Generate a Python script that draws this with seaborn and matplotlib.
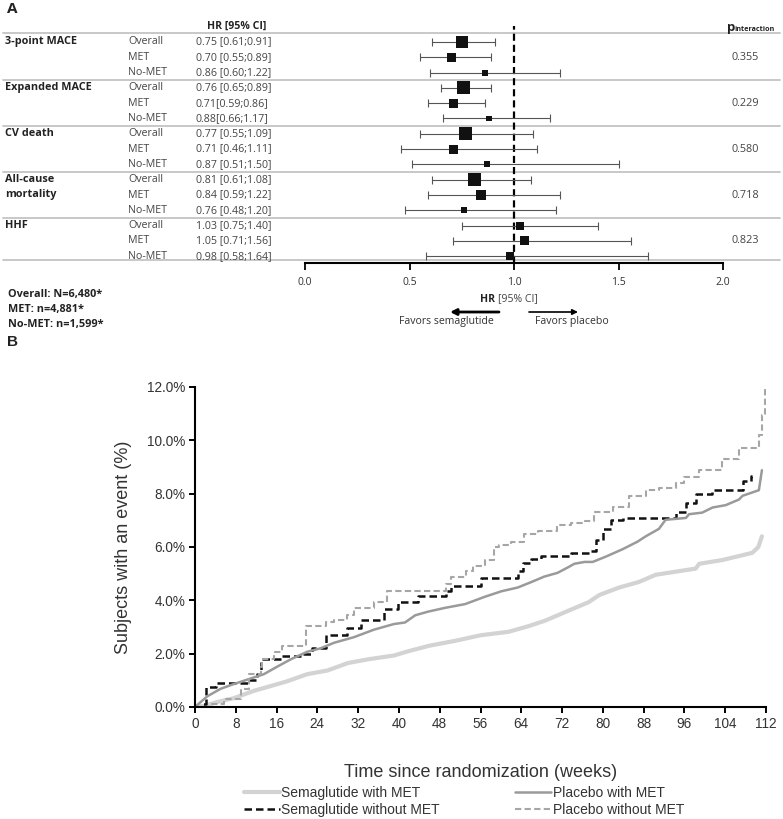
import numpy as np
import pandas as pd
import matplotlib
matplotlib.use("Agg")
import matplotlib.pyplot as plt
import matplotlib.transforms as mtransforms
from matplotlib.lines import Line2D
import seaborn as sns

# ---------------- Panel A data ----------------
outcomes = ["3-point MACE", "Expanded MACE", "CV death", "All-cause\nmortality", "HHF"]
subgroups = ["Overall", "MET", "No-MET"]
hr = [0.75, 0.70, 0.86, 0.76, 0.71, 0.88, 0.77, 0.71, 0.87, 0.81, 0.84, 0.76, 1.03, 1.05, 0.98]
ci_low = [0.61, 0.55, 0.60, 0.65, 0.59, 0.66, 0.55, 0.46, 0.51, 0.61, 0.59, 0.48, 0.75, 0.71, 0.58]
ci_high = [0.91, 0.89, 1.22, 0.89, 0.86, 1.17, 1.09, 1.11, 1.50, 1.08, 1.22, 1.20, 1.40, 1.56, 1.64]
hr_labels = ["0.75 [0.61;0.91]", "0.70 [0.55;0.89]", "0.86 [0.60;1.22]",
             "0.76 [0.65;0.89]", "0.71[0.59;0.86]", "0.88[0.66;1.17]",
             "0.77 [0.55;1.09]", "0.71 [0.46;1.11]", "0.87 [0.51;1.50]",
             "0.81 [0.61;1.08]", "0.84 [0.59;1.22]", "0.76 [0.48;1.20]",
             "1.03 [0.75;1.40]", "1.05 [0.71;1.56]", "0.98 [0.58;1.64]"]
p_interaction = ["0.355", "0.229", "0.580", "0.718", "0.823"]
hr_ticks = [0.0, 0.5, 1.0, 1.5, 2.0]
n_notes = ["Overall: N=6,480*", "MET: n=4,881*", "No-MET: n=1,599*"]

# marker side lengths (px), a style choice reflecting study weight
marker_px = [12, 9, 6, 13, 9, 5.5, 13, 9, 6, 13, 10, 6, 8, 9, 8]

# ---------------- Panel B data ----------------
sema_met_wk = [0, 2, 4.4, 7.6, 11.6, 14.2, 18, 22, 26, 30, 34, 39, 42, 46, 51, 56, 61.5, 65.4,
               68.7, 72, 74.6, 77.2, 79.3, 83.2, 87.1, 90.4, 98.2, 98.9, 103.4, 109.3, 110.5, 111.2]
sema_met_pct = [0, 0.05, 0.19, 0.33, 0.61, 0.75, 0.96, 1.23, 1.37, 1.65, 1.79, 1.93, 2.1, 2.3, 2.48,
                2.69, 2.82, 3.03, 3.24, 3.51, 3.72, 3.93, 4.2, 4.48, 4.69, 4.96, 5.19, 5.37, 5.51,
                5.78, 6.0, 6.4]

plac_met_wk = [0, 2.4, 5, 7, 10.3, 13.5, 16.1, 18.8, 22, 24.6, 27.3, 31.2, 35.1, 39, 41.2, 43.2,
               45.8, 49.1, 53, 56.8, 60.1, 63.3, 65.9, 68.5, 71.1, 73.1, 74.4, 76.4, 78, 80.6, 83.9,
               86.8, 88.4, 91, 92.3, 96.3, 96.9, 99.5, 101.5, 104.1, 106.7, 107.4, 110.6, 111.2]
plac_met_pct = [0, 0.4, 0.68, 0.82, 1.03, 1.23, 1.51, 1.79, 2.07, 2.2, 2.41, 2.62, 2.9, 3.11, 3.17,
                3.44, 3.58, 3.72, 3.86, 4.13, 4.34, 4.48, 4.68, 4.89, 5.03, 5.23, 5.37, 5.44, 5.44,
                5.64, 5.92, 6.2, 6.4, 6.68, 7.02, 7.09, 7.23, 7.29, 7.48, 7.57, 7.78, 7.92, 8.13, 8.88]

sema_nomet_wk = [0, 1.1, 2.1, 4.2, 10.3, 12.2, 12.9, 16.8, 20.7, 23, 25.6, 29.9, 32.5, 37.1, 39.8,
                 43.7, 49.3, 50.2, 56.1, 63.3, 64.3, 65.9, 67.9, 73.7, 77.7, 78.7, 80, 81.6, 83.9,
                 94.3, 96.3, 98.2, 101.5, 107.4, 109, 109.3]
sema_nomet_pct = [0, 0.1, 0.75, 0.89, 1.03, 1.23, 1.79, 1.93, 2.0, 2.2, 2.69, 2.97, 3.25, 3.66, 3.95,
                  4.15, 4.35, 4.55, 4.85, 5.1, 5.4, 5.54, 5.65, 5.79, 5.85, 6.27, 6.69, 7.02, 7.09,
                  7.3, 7.64, 7.98, 8.12, 8.47, 8.68, 8.68]

plac_nomet_wk = [0, 3, 5.6, 9, 10.6, 12.9, 13.2, 15.5, 17.1, 21.7, 25.6, 27.3, 29.9, 31.2, 35.1,
                 37.7, 49.3, 50.2, 53.2, 54.5, 56.8, 58.7, 59.7, 62, 64.6, 67.2, 71.1, 73.7, 76.4,
                 78.3, 81.9, 85.1, 88.4, 91, 94.3, 95.9, 98.8, 103.4, 106.7, 110.6, 111.2, 111.9]
plac_nomet_pct = [0, 0.1, 0.3, 0.68, 1.23, 1.5, 1.79, 2.07, 2.27, 3.04, 3.18, 3.25, 3.45, 3.73, 3.94,
                  4.36, 4.6, 4.89, 5.1, 5.3, 5.51, 5.99, 6.06, 6.2, 6.47, 6.61, 6.82, 6.91, 6.96,
                  7.3, 7.5, 7.92, 8.12, 8.22, 8.4, 8.64, 8.88, 9.3, 9.71, 10.2, 10.95, 11.98]

km_xticks = list(range(0, 113, 8))
km_yticks = [0, 2, 4, 6, 8, 10, 12]
legend_labels = ["Semaglutide with MET", "Semaglutide without MET",
                 "Placebo with MET", "Placebo without MET"]

# ---------------- Figure ----------------
sns.set_style("ticks")
FA = ["Open Sans", "DejaVu Sans"]
FB = ["Liberation Sans", "DejaVu Sans"]
plt.rcParams["font.family"] = FA

W, H = 783, 819
fig = plt.figure(figsize=(W / 100, H / 100), dpi=100)
fx = lambda px: px / W
fy = lambda py: 1 - py / H

# ---- Panel A layout (pixel anchors) ----
row0, drow = 42.0, 15.3
ax_top, ax_bot = 26.0, 263.0
ax_f = fig.add_axes([fx(305), fy(ax_bot), fx(723) - fx(305), (ax_bot - ax_top) / H])
rows = np.arange(len(hr))

hr_a = np.array(hr); lo_a = np.array(ci_low); hi_a = np.array(ci_high)
ax_f.errorbar(hr_a, rows, xerr=[hr_a - lo_a, hi_a - hr_a], fmt="none", ecolor="#555555",
              elinewidth=0.8, capsize=2.8, capthick=0.8, zorder=2)
df_f = pd.DataFrame({"hr": hr, "row": rows})
sns.scatterplot(data=df_f, x="hr", y="row", marker="s", color="#111111",
                s=(np.array(marker_px) * 0.72) ** 2, linewidth=0, ax=ax_f, zorder=3, legend=False)
ax_f.axvline(1.0, color="black", lw=1.6, dashes=(3.2, 1.8), zorder=1)

ax_f.set_xlim(0, 2)
ax_f.set_ylim((ax_bot - row0) / drow, (ax_top - row0) / drow)
ax_f.set_xlabel(""); ax_f.set_ylabel("")
ax_f.set_yticks([])
ax_f.set_xticks(hr_ticks)
ax_f.set_xticklabels([f"{t:.1f}" for t in hr_ticks], fontsize=7.5, color="#333333")
ax_f.tick_params(axis="x", length=5, width=1.3, color="black", pad=5)
for s in ["top", "right", "left"]:
    ax_f.spines[s].set_visible(False)
ax_f.spines["bottom"].set_linewidth(1.5)
ax_f.spines["bottom"].set_color("black")
ax_f.patch.set_alpha(0)

blend = mtransforms.blended_transform_factory(fig.transFigure, ax_f.transData)

# separators
sep_rows = [-0.6, 2.5, 5.5, 8.5, 11.5, 14.25]
for r in sep_rows:
    ax_f.add_line(Line2D([fx(3), fx(780)], [r, r], transform=blend, color="#c4c4c4",
                         lw=1.3, clip_on=False, zorder=0))

# group labels, subgroup labels, HR text
for g, name in enumerate(outcomes):
    for k, part in enumerate(name.split("\n")):
        ax_f.text(fx(5), g * 3 + k, part, transform=blend, ha="left", va="center",
                  fontsize=7.8, fontweight="bold", color="#222222", clip_on=False)
    ax_f.text(fx(745), g * 3 + 1, p_interaction[g], transform=blend, ha="center",
              va="center", fontsize=7.8, color="#444444", clip_on=False)
for i in rows:
    ax_f.text(fx(128), i, subgroups[i % 3], transform=blend, ha="left", va="center",
              fontsize=7.7, color="#444444", clip_on=False)
    ax_f.text(fx(196), i, hr_labels[i], transform=blend, ha="left", va="center",
              fontsize=7.7, color="#444444", clip_on=False)

hdr_r = (ax_top - row0) / drow
ax_f.text(fx(237), hdr_r, "HR [95% CI]", transform=blend, ha="center", va="center",
          fontsize=7.6, fontweight="bold", color="#222222", clip_on=False)
ax_f.text(fx(727), hdr_r + 0.3, "p", transform=blend, ha="left", va="baseline",
          fontsize=9.5, fontweight="bold", color="#222222", clip_on=False)
ax_f.text(fx(734.5), hdr_r + 0.3, "interaction", transform=blend, ha="left", va="baseline",
          fontsize=5.2, fontweight="bold", color="#222222", clip_on=False)

# notes and favors
for k, note in enumerate(n_notes):
    fig.text(fx(8), fy(294 + 15.5 * k), note, ha="left", va="center", fontsize=7.8,
             fontweight="bold", color="#222222")
fig.text(fx(495), fy(299), "HR", ha="right", va="center", fontsize=7.6, fontweight="bold",
         color="#222222")
fig.text(fx(498), fy(299), "[95% CI]", ha="left", va="center", fontsize=7.6, color="#444444")
fig.text(fx(446), fy(322), "Favors semaglutide", ha="center", va="center", fontsize=7.6,
         color="#333333")
fig.text(fx(572), fy(322), "Favors placebo", ha="center", va="center", fontsize=7.6,
         color="#333333")
ax_f.annotate("", xy=(fx(450), fy(312)), xytext=(fx(499), fy(312)), xycoords="figure fraction",
              textcoords="figure fraction", annotation_clip=False,
              arrowprops=dict(arrowstyle="-|>", lw=2.0, color="black", mutation_scale=9,
                              shrinkA=0, shrinkB=0))
ax_f.annotate("", xy=(fx(578), fy(312)), xytext=(fx(529), fy(312)), xycoords="figure fraction",
              textcoords="figure fraction", annotation_clip=False,
              arrowprops=dict(arrowstyle="-|>", lw=1.2, color="black", mutation_scale=8,
                              shrinkA=0, shrinkB=0))

fig.text(fx(7), fy(9), "A", ha="left", va="center", fontsize=11, fontweight="bold",
         color="#222222")
fig.text(fx(7), fy(342), "B", ha="left", va="center", fontsize=11, fontweight="bold",
         color="#222222", family=FB)

# ---- Panel B ----
km_left, km_right, km_top, km_bot = 195, 766, 387, 707
ax_k = fig.add_axes([fx(km_left), fy(km_bot), fx(km_right) - fx(km_left),
                     (km_bot - km_top) / H])
series = [
    (sema_met_wk, sema_met_pct, dict(color="#d3d3d3", lw=3.0), None, "default"),
    (sema_nomet_wk, sema_nomet_pct, dict(color="#111111", lw=1.8), (3.0, 1.6), "steps-post"),
    (plac_met_wk, plac_met_pct, dict(color="#9a9a9a", lw=1.8), None, "default"),
    (plac_nomet_wk, plac_nomet_pct, dict(color="#a6a6a6", lw=1.5), (3.0, 1.6), "steps-post"),
]
handles = []
for (wk, pc, sty, dash, ds), lab in zip(series, legend_labels):
    n_before = len(ax_k.lines)
    sns.lineplot(x=wk, y=pc, ax=ax_k, estimator=None, sort=False, drawstyle=ds,
                 color=sty["color"], lw=sty["lw"], legend=False)
    ln = ax_k.lines[n_before]
    if dash is not None:
        ln.set_dashes(dash)
    h = Line2D([0], [0], color=sty["color"], lw=sty["lw"])
    if dash is not None:
        h.set_dashes(dash)
    handles.append(h)

ax_k.set_xlim(0, 112)
ax_k.set_ylim(0, 12)
ax_k.set_xticks(km_xticks)
ax_k.set_xticklabels([str(t) for t in km_xticks], family=FB, fontsize=9.8, color="#333333")
ax_k.set_yticks(km_yticks)
ax_k.set_yticklabels([f"{t:.1f}%" for t in km_yticks], family=FB, fontsize=9.8,
                     color="#333333")
ax_k.tick_params(length=4, width=1.4, color="black", pad=3)
ax_k.set_xlabel("Time since randomization (weeks)", family=FB, fontsize=13, color="#333333",
                labelpad=24)
ax_k.set_ylabel("Subjects with an event (%)", family=FB, fontsize=13, color="#333333",
                labelpad=11)
for s in ["top", "right"]:
    ax_k.spines[s].set_visible(False)
for s in ["left", "bottom"]:
    ax_k.spines[s].set_linewidth(1.5)
    ax_k.spines[s].set_color("black")
ax_k.patch.set_alpha(0)

leg = fig.legend(handles, legend_labels, loc="center", ncol=2,
                 bbox_to_anchor=(fx(464), fy(801.5)), frameon=False,
                 prop=dict(family=FB, size=10), handlelength=2.6, handletextpad=0.1,
                 columnspacing=5.4, labelspacing=0.2, borderpad=0.1)
for t in leg.get_texts():
    t.set_color("#333333")

fig.savefig("out.png", dpi=100)
